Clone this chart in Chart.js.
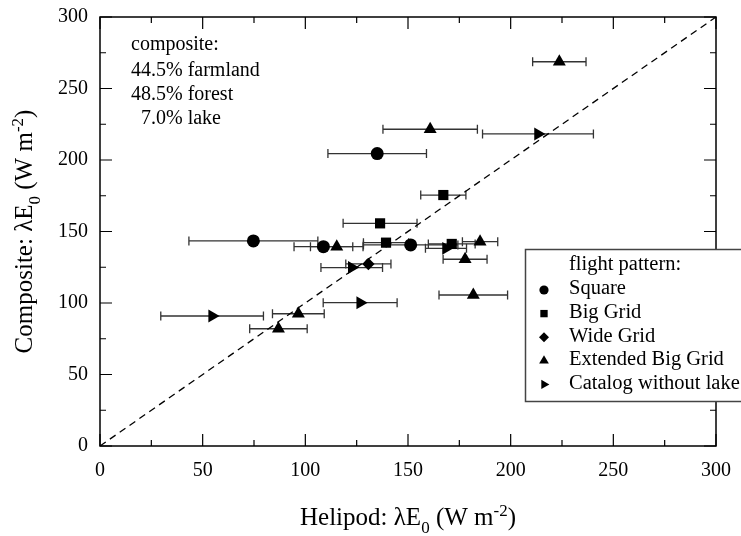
<!DOCTYPE html>
<html><head><meta charset="utf-8">
<script src="https://cdn.jsdelivr.net/npm/chart.js@4.4.1/dist/chart.umd.min.js"></script>
<style>html,body{margin:0;padding:0;background:#fff;}#wrap{width:741px;height:536px;}</style>
</head><body><div id="wrap"><canvas id="c" width="741" height="536"></canvas></div>
<script>
// ---- data ----
const seriesNames = ['Square', 'Big Grid', 'Wide Grid', 'Extended Big Grid', 'Catalog without lake'];

const squareX   = [135.0, 74.7, 108.8, 151.3];
const squareY   = [204.5, 143.4, 139.4, 140.6];
const squareErr = [24.0, 31.4, 14.3, 23.0];

const bigGridX   = [167.2, 136.4, 139.3, 171.3];
const bigGridY   = [175.5, 155.7, 142.2, 141.3];
const bigGridErr = [11.0, 18.0, 11.0, 11.4];

const wideGridX   = [130.7];
const wideGridY   = [127.3];
const wideGridErr = [11.0];

const extGridX   = [223.7, 160.8, 115.3, 185.1, 177.8, 181.8, 96.6, 86.9];
const extGridY   = [268.7, 221.5, 139.4, 142.9, 130.6, 105.6, 92.5, 82.0];
const extGridErr = [13.0, 23.0, 12.8, 8.6, 10.7, 16.7, 12.6, 14.0];

const catalogX   = [213.3, 168.5, 122.6, 126.7, 54.6];
const catalogY   = [218.2, 138.2, 124.8, 100.2, 90.9];
const catalogErr = [27.0, 10.0, 15.0, 18.0, 25.0];

const oneToOneX = [0, 300];
const oneToOneY = [0, 300];

const xTickValues = [0, 50, 100, 150, 200, 250, 300];
const yTickValues = [0, 50, 100, 150, 200, 250, 300];
const minorTickValues = [25, 75, 125, 175, 225, 275];

const annotationLines = ['composite:', '44.5% farmland', '48.5% forest', '7.0% lake'];
const legendTitle = 'flight pattern:';
const xTitleParts = [['Helipod: λE', 'n'], ['0', 'sub'], [' (W m', 'n'], ['-2', 'sup'], [')', 'n']];
const yTitleParts = [['Composite: λE', 'n'], ['0', 'sub'], [' (W m', 'n'], ['-2', 'sup'], [')', 'n']];

// ---- styling ----
const FONT = "'Liberation Serif', 'Times New Roman', serif";

function mkSeries(label, xs, ys, errs, style, radius, rot, legendRadius) {
  return {
    type: 'scatter', label: label,
    data: xs.map((x, i) => ({x: x, y: ys[i]})),
    xErr: errs,
    pointStyle: style, pointRadius: radius, pointHoverRadius: radius,
    pointRotation: rot || 0, legendRadius: legendRadius,
    backgroundColor: '#000', borderColor: '#000', borderWidth: 0, showLine: false
  };
}

const datasets = [
  {type: 'line', label: '', data: oneToOneX.map((x, i) => ({x: x, y: oneToOneY[i]})),
   borderColor: '#000', borderWidth: 1.3, borderDash: [7, 5], pointRadius: 0, fill: false, isGuide: true},
  mkSeries(seriesNames[0], squareX, squareY, squareErr, 'circle', 6.5, 0, 4.6),
  mkSeries(seriesNames[1], bigGridX, bigGridY, bigGridErr, 'rect', 7.2, 0, 5.2),
  mkSeries(seriesNames[2], wideGridX, wideGridY, wideGridErr, 'rectRot', 6.2, 0, 5.0),
  mkSeries(seriesNames[3], extGridX, extGridY, extGridErr, 'triangle', 7.5, 0, 5.6),
  mkSeries(seriesNames[4], catalogX, catalogY, catalogErr, 'triangle', 7.5, 90, 5.4)
];

function drawRich(ctx, parts, size) {
  let x = 0;
  const small = Math.round(size * 0.68);
  parts.forEach(p => {
    const [t, mode] = p;
    let dy = 0, fs = size;
    if (mode === 'sub') { fs = small; dy = size * 0.32; }
    if (mode === 'sup') { fs = small; dy = -size * 0.38; }
    ctx.font = fs + 'px ' + FONT;
    ctx.fillText(t, x, dy);
    x += ctx.measureText(t).width;
  });
  return x;
}
function richWidth(ctx, parts, size) {
  let w = 0; const small = Math.round(size * 0.68);
  parts.forEach(p => {
    ctx.font = (p[1] === 'n' ? size : small) + 'px ' + FONT;
    w += ctx.measureText(p[0]).width;
  });
  return w;
}

const errorBarPlugin = {
  id: 'errorBars',
  beforeDatasetsDraw(chart) {
    const ctx = chart.ctx, xs = chart.scales.x;
    ctx.save();
    ctx.strokeStyle = '#333';
    ctx.lineWidth = 1.3;
    chart.data.datasets.forEach((ds, di) => {
      if (!ds.xErr) return;
      const meta = chart.getDatasetMeta(di);
      meta.data.forEach((pt, i) => {
        const v = ds.data[i];
        const e = ds.xErr[i];
        const x1 = xs.getPixelForValue(v.x - e), x2 = xs.getPixelForValue(v.x + e);
        const y = pt.y;
        ctx.beginPath();
        ctx.moveTo(x1, y); ctx.lineTo(x2, y);
        ctx.moveTo(x1, y - 4.5); ctx.lineTo(x1, y + 4.5);
        ctx.moveTo(x2, y - 4.5); ctx.lineTo(x2, y + 4.5);
        ctx.stroke();
      });
    });
    ctx.restore();
  }
};

const framePlugin = {
  id: 'frame',
  afterDraw(chart) {
    const ctx = chart.ctx, a = chart.chartArea, xs = chart.scales.x, ys = chart.scales.y;
    ctx.save();
    ctx.strokeStyle = '#000';
    ctx.lineWidth = 1.5;
    ctx.strokeRect(a.left, a.top, a.right - a.left, a.bottom - a.top);
    ctx.lineWidth = 1.2;
    ctx.beginPath();
    const tick = (v, len) => {
      const px = xs.getPixelForValue(v), py = ys.getPixelForValue(v);
      ctx.moveTo(px, a.bottom); ctx.lineTo(px, a.bottom - len);
      ctx.moveTo(px, a.top); ctx.lineTo(px, a.top + len);
      ctx.moveTo(a.left, py); ctx.lineTo(a.left + len, py);
      ctx.moveTo(a.right, py); ctx.lineTo(a.right - len, py);
    };
    xTickValues.forEach(v => tick(v, 12));
    minorTickValues.forEach(v => tick(v, 6));
    ctx.stroke();

    // axis titles
    ctx.fillStyle = '#000';
    ctx.textBaseline = 'alphabetic';
    ctx.textAlign = 'left';
    const tsize = 25;
    const cx = (a.left + a.right) / 2;
    let w = richWidth(ctx, xTitleParts, tsize);
    ctx.save();
    ctx.translate(cx - w / 2, 525);
    drawRich(ctx, xTitleParts, tsize);
    ctx.restore();
    const cy = (a.top + a.bottom) / 2;
    w = richWidth(ctx, yTitleParts, tsize);
    ctx.save();
    ctx.translate(32, cy + w / 2);
    ctx.rotate(-Math.PI / 2);
    drawRich(ctx, yTitleParts, tsize);
    ctx.restore();

    // annotation
    ctx.font = '20px ' + FONT;
    ctx.textBaseline = 'middle';
    const indent = ctx.measureText('4').width;
    const annY = [45, 71, 95, 119];
    annotationLines.forEach((t, i) => {
      const x = 131 + (i === 3 ? indent : 0);
      ctx.fillText(t, x, annY[i]);
    });

    // legend
    const lx = 525.5, ly = 249.5, lw = 240, lh = 152;
    ctx.fillStyle = '#fff';
    ctx.fillRect(lx, ly, lw, lh);
    ctx.strokeStyle = '#444';
    ctx.lineWidth = 1.5;
    ctx.strokeRect(lx, ly, lw, lh);
    ctx.fillStyle = '#000';
    ctx.font = '20.5px ' + FONT;
    ctx.textBaseline = 'middle';
    ctx.fillText(legendTitle, 569, 265);
    const series = chart.data.datasets.filter(d => !d.isGuide);
    series.forEach((ds, i) => {
      const y = 289 + i * 23.6;
      ctx.fillStyle = '#000';
      Chart.helpers.drawPoint(ctx, {pointStyle: ds.pointStyle, rotation: ds.pointRotation, radius: ds.legendRadius, borderWidth: 0}, 544, y + 1);
      ctx.fillStyle = '#000';
      ctx.font = '20.5px ' + FONT;
      ctx.fillText(ds.label, 569, y);
    });
    ctx.restore();
  }
};

function zeroPad(s) { s.paddingLeft = 0; s.paddingRight = 0; s.paddingTop = 0; s.paddingBottom = 0; }

new Chart(document.getElementById('c'), {
  data: {datasets: datasets},
  options: {
    responsive: false, animation: false, devicePixelRatio: 1,
    layout: {padding: {left: 0, top: 17, right: 25, bottom: 0}},
    plugins: {legend: {display: false}, tooltip: {enabled: false}},
    scales: {
      x: {
        type: 'linear', min: 0, max: 300,
        grid: {display: false, drawTicks: false}, border: {display: false},
        ticks: {color: '#000', font: {family: FONT, size: 20}, padding: 13, maxRotation: 0},
        afterBuildTicks: s => { s.ticks = xTickValues.map(v => ({value: v})); },
        afterFit: s => { s.height = 90; zeroPad(s); }
      },
      y: {
        type: 'linear', min: 0, max: 300,
        grid: {display: false, drawTicks: false}, border: {display: false},
        ticks: {color: '#000', font: {family: FONT, size: 20}, padding: 12},
        afterBuildTicks: s => { s.ticks = yTickValues.map(v => ({value: v})); },
        afterFit: s => { s.width = 100; zeroPad(s); }
      }
    }
  },
  plugins: [errorBarPlugin, framePlugin]
});
</script>
</body></html>
